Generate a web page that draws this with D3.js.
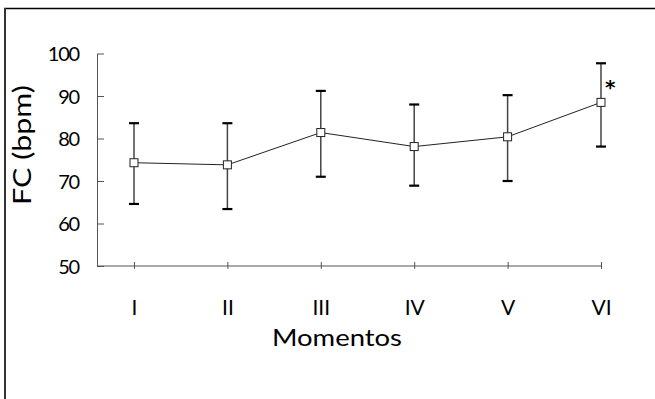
<!DOCTYPE html>
<html>
<head>
<meta charset="utf-8">
<script src="https://cdn.jsdelivr.net/npm/d3@7"></script>
<style>
  body { margin: 0; background: #fff; }
  svg { display: block; font-family: 'Lato', 'DejaVu Sans', sans-serif; }
  .axis text { font-family: 'Lato', sans-serif; fill: #000; }
  .label { fill: #000; }
</style>
</head>
<body>
<svg></svg>
<script>
const moments = ['I', 'II', 'III', 'IV', 'V', 'VI'];
const means = [74.3, 73.8, 81.4, 78.1, 80.4, 88.5];
const upper = [83.6, 83.6, 91.2, 88.0, 90.2, 97.7];
const lower = [64.6, 63.4, 71.0, 68.9, 70.0, 78.1];
const yTicks = [50, 60, 70, 80, 90, 100];
const marked = ['VI'];

const width = 655;
const height = 399;

const data = moments.map((m, i) => ({
  moment: m,
  mean: means[i],
  hi: upper[i],
  lo: lower[i]
}));

const svg = d3.select('svg')
  .attr('width', width)
  .attr('height', height);

// outer frame (only top and left visible)
svg.append('line')
  .attr('x1', 4).attr('x2', width)
  .attr('y1', 8.5).attr('y2', 8.5)
  .attr('stroke', '#000').attr('stroke-width', 1.5);
svg.append('line')
  .attr('x1', 5).attr('x2', 5)
  .attr('y1', 8).attr('y2', height)
  .attr('stroke', '#333').attr('stroke-width', 2);

const x = d3.scalePoint().domain(moments).range([134, 601]);
const y = d3.scaleLinear().domain([50, 100]).range([266, 53.5]);
const axisLeftX = 97;

// y axis
const yAxis = svg.append('g')
  .attr('class', 'axis')
  .attr('transform', `translate(${axisLeftX},0)`)
  .call(d3.axisLeft(y).tickValues(yTicks).tickSizeInner(-7).tickSizeOuter(0).tickPadding(18));
yAxis.select('.domain').attr('stroke', '#555');
yAxis.selectAll('.tick line').attr('stroke', '#555');
yAxis.selectAll('text')
  .style('font-size', '20px')
  .attr('letter-spacing', '-1.2px')
  .attr('dy', '0.36em');

// x axis
svg.append('line')
  .attr('x1', axisLeftX).attr('x2', x('VI'))
  .attr('y1', y(50)).attr('y2', y(50))
  .attr('stroke', '#555').attr('stroke-width', 1.2);

const xAxis = svg.append('g')
  .attr('class', 'axis')
  .attr('transform', `translate(0,${y(50)})`)
  .call(d3.axisBottom(x).tickSizeInner(3).tickSizeOuter(0));
xAxis.select('.domain').remove();
xAxis.selectAll('.tick line').attr('y1', -4).attr('stroke', '#555');
xAxis.selectAll('text')
  .attr('y', 49)
  .attr('dy', 0)
  .style('font-size', '21px');

// axis titles
svg.append('text')
  .attr('class', 'label')
  .attr('x', 337)
  .attr('y', 346)
  .attr('text-anchor', 'middle')
  .attr('textLength', 130)
  .attr('lengthAdjust', 'spacingAndGlyphs')
  .style('font-size', '23px')
  .text('Momentos');

svg.append('text')
  .attr('class', 'label')
  .attr('transform', `translate(31,145) rotate(-90)`)
  .attr('text-anchor', 'middle')
  .attr('textLength', 120)
  .attr('lengthAdjust', 'spacingAndGlyphs')
  .style('font-size', '25px')
  .text('FC (bpm)');

// error bars
const bars = svg.append('g');
bars.selectAll('.whisker')
  .data(data)
  .enter()
  .append('line')
  .attr('class', 'whisker')
  .attr('x1', d => x(d.moment))
  .attr('x2', d => x(d.moment))
  .attr('y1', d => y(d.hi))
  .attr('y2', d => y(d.lo))
  .attr('stroke', '#444')
  .attr('stroke-width', 1.5);

['hi', 'lo'].forEach(k => {
  bars.selectAll('.cap-' + k)
    .data(data)
    .enter()
    .append('line')
    .attr('class', 'cap-' + k)
    .attr('x1', d => x(d.moment) - 5)
    .attr('x2', d => x(d.moment) + 5)
    .attr('y1', d => y(d[k]))
    .attr('y2', d => y(d[k]))
    .attr('stroke', '#000')
    .attr('stroke-width', 2.2);
});

// mean line
const valueLine = d3.line()
  .x(d => x(d.moment))
  .y(d => y(d.mean));

svg.append('path')
  .datum(data)
  .attr('d', valueLine)
  .attr('fill', 'none')
  .attr('stroke', '#222')
  .attr('stroke-width', 1);

// markers
svg.selectAll('.marker')
  .data(data)
  .enter()
  .append('rect')
  .attr('class', 'marker')
  .attr('x', d => x(d.moment) - 4)
  .attr('y', d => y(d.mean) - 4)
  .attr('width', 8)
  .attr('height', 8)
  .attr('fill', '#fff')
  .attr('stroke', '#222')
  .attr('stroke-width', 1);

// significance mark
svg.selectAll('.star')
  .data(data.filter(d => marked.includes(d.moment)))
  .enter()
  .append('text')
  .attr('x', d => x(d.moment) + 4)
  .attr('y', d => y(d.mean) - 8)
  .style('font-family', 'DejaVu Sans, sans-serif')
  .style('font-size', '20px')
  .style('font-weight', 'bold')
  .text('*');
</script>
</body>
</html>
